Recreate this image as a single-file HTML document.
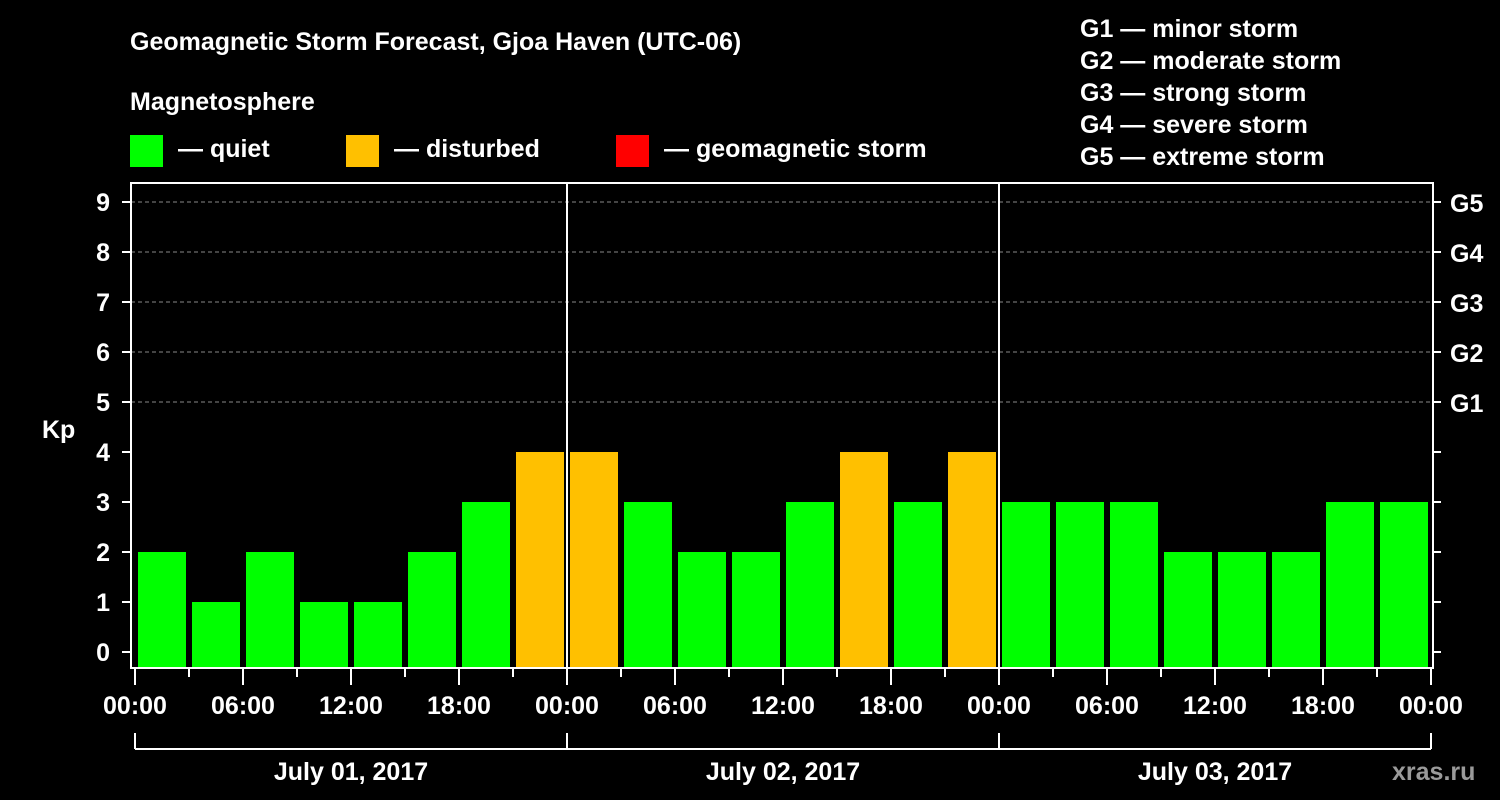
<!DOCTYPE html>
<html><head><meta charset="utf-8"><style>
html,body{margin:0;padding:0;background:#000;width:1500px;height:800px;overflow:hidden}
svg text{font-family:"Liberation Sans",Arial,sans-serif;font-weight:bold;fill:#fff}
</style></head><body>
<svg id="chart" width="1500" height="800" viewBox="0 0 1500 800" xmlns="http://www.w3.org/2000/svg">
<text x="130" y="50" font-size="25">Geomagnetic Storm Forecast, Gjoa Haven (UTC-06)</text>
<text x="130" y="110" font-size="25">Magnetosphere</text>
<g><rect x="130" y="135" width="33" height="32" fill="#00ff00"/><text x="178" y="157" font-size="25">— quiet</text></g>
<g><rect x="346" y="135" width="33" height="32" fill="#ffc000"/><text x="394" y="157" font-size="25">— disturbed</text></g>
<g><rect x="616" y="135" width="33" height="32" fill="#ff0000"/><text x="664" y="157" font-size="25">— geomagnetic storm</text></g>
<g font-size="25">
<text x="1080" y="37">G1 — minor storm</text>
<text x="1080" y="69">G2 — moderate storm</text>
<text x="1080" y="101">G3 — strong storm</text>
<text x="1080" y="133">G4 — severe storm</text>
<text x="1080" y="165">G5 — extreme storm</text>
</g>
<text x="42" y="438" font-size="25">Kp</text>
<text x="1392" y="780" font-size="25" fill="#999" style="fill:#9a9a9a">xras.ru</text>
<g id="grid"></g><g id="bars"></g><g id="axes"></g>
</svg>
<script>
const kpValues=[2,1,2,1,1,2,3,4, 4,3,2,2,3,4,3,4, 3,3,3,2,2,2,3,3];
const yTicks=[0,1,2,3,4,5,6,7,8,9];
const gLabels=["G1","G2","G3","G4","G5"];
const gLevels=[5,6,7,8,9];
const timeLabels=["00:00","06:00","12:00","18:00"];
const dayLabels=["July 01, 2017","July 02, 2017","July 03, 2017"];
const NS="http://www.w3.org/2000/svg";
const X0=135,DAYW=432,SLOT=54,PL=131,PR=1433,PT=183,PB=668;
const y=v=>652-50*v;
const xs=i=>X0+SLOT*i;
function mk(tag,attrs,parent,txt){const e=document.createElementNS(NS,tag);for(const k in attrs)e.setAttribute(k,attrs[k]);if(txt!==undefined)e.textContent=txt;parent.appendChild(e);return e;}
const grid=document.getElementById('grid'),bars=document.getElementById('bars'),axes=document.getElementById('axes');
gLevels.forEach((g,i)=>{const l=mk('line',{x1:PL,x2:PR,y1:y(g),y2:y(g),stroke:'#888','stroke-dasharray':'4,3','stroke-width':1},grid);


const t=mk('text',{x:1450,y:y(g)+10,'font-size':25},axes,gLabels[i]);

});
kpValues.forEach((v,i)=>{const c=v>=5?'#ff0000':(v>=4?'#ffc000':'#00ff00');
const r=mk('rect',{x:xs(i)+3,y:y(v),width:48,height:PB-y(v),fill:c},bars);

});
const frame=mk('rect',{x:PL,y:PT,width:PR-PL,height:PB-PT,fill:'none',stroke:'#fff','stroke-width':2},axes);


for(let d=1;d<dayLabels.length;d++){const l=mk('line',{x1:X0+DAYW*d,x2:X0+DAYW*d,y1:PT,y2:PB,stroke:'#fff','stroke-width':2},axes);

}
yTicks.forEach(v=>{mk('line',{x1:122,x2:PL,y1:y(v),y2:y(v),stroke:'#fff','stroke-width':2},axes);
mk('line',{x1:PR,x2:1441,y1:y(v),y2:y(v),stroke:'#fff','stroke-width':2},axes);
const t=mk('text',{x:110,y:y(v)+9,'font-size':25,'text-anchor':'end'},axes,String(v));

});
const nSlots=kpValues.length;
for(let i=0;i<=nSlots;i++){const major=i%2===0;mk('line',{x1:xs(i),x2:xs(i),y1:PB,y2:major?685:677,stroke:'#fff','stroke-width':2},axes);
if(i%2===0){const lbl=timeLabels[(i/2)%4];const t=mk('text',{x:xs(i),y:714,'font-size':25,'text-anchor':'middle'},axes,lbl);

}}
mk('line',{x1:X0,x2:X0+DAYW*dayLabels.length,y1:749,y2:749,stroke:'#fff','stroke-width':2},axes);
for(let d=0;d<=dayLabels.length;d++)mk('line',{x1:X0+DAYW*d,x2:X0+DAYW*d,y1:733,y2:749,stroke:'#fff','stroke-width':2},axes);
dayLabels.forEach((s,d)=>{const t=mk('text',{x:X0+DAYW*d+DAYW/2,y:780,'font-size':25,'text-anchor':'middle'},axes,s);

});
</script>
</body></html>
